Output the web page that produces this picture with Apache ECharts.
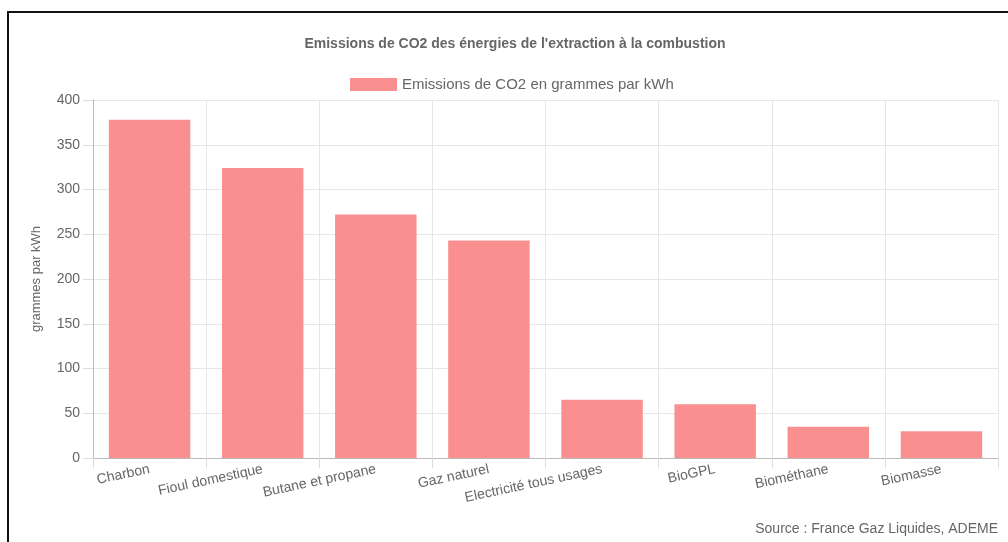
<!DOCTYPE html>
<html>
<head>
<meta charset="utf-8">
<script src="https://cdn.jsdelivr.net/npm/echarts@6/dist/echarts.min.js"></script>
<style>
  html, body { margin: 0; padding: 0; background: #fff; }
  #main { width: 1008px; height: 542px; }
  #frame { position: absolute; left: 7px; top: 11px; width: 1010px; height: 560px;
           border: 2px solid #111; pointer-events: none; }
</style>
</head>
<body>
<div id="main"></div>
<div id="frame"></div>
<script>
  // catégories et valeurs
  var categories = ['Charbon', 'Fioul domestique', 'Butane et propane', 'Gaz naturel',
    'Electricité tous usages', 'BioGPL', 'Biométhane', 'Biomasse'];
  var emissions = [378, 324, 272, 243, 65, 60, 35, 30];
  var yTicks = [0, 50, 100, 150, 200, 250, 300, 350, 400];

  var myChart = echarts.init(document.getElementById('main'));
  var font = 'Liberation Sans, Arial, sans-serif';

  var option = {
    animation: false,
    title: {
      text: "Emissions de CO2 des énergies de l'extraction à la combustion",
      left: 510, textAlign: 'center', top: 32,
      textStyle: { fontSize: 14, fontWeight: 'bold', color: '#666', fontFamily: font }
    },
    legend: {
      data: ['Emissions de CO2 en grammes par kWh'],
      top: 72, left: 345,
      itemWidth: 47, itemHeight: 13, itemGap: 8,
      icon: 'rect',
      textStyle: { fontSize: 15, color: '#666', fontFamily: font }
    },
    graphic: [{
      type: 'text', right: 10, top: 522,
      style: { text: 'Source : France Gaz Liquides, ADEME', fontSize: 14, fill: '#666', fontFamily: font }
    }],
    grid: { left: 93, right: 10, top: 100, bottom: 84 },
    xAxis: {
      type: 'category',
      data: categories,
      axisLine: { lineStyle: { color: '#bbb' } },
      axisTick: { show: true, length: 10, lineStyle: { color: '#ddd' } },
      axisLabel: { rotate: 12, margin: 11, fontSize: 14, color: '#666', fontFamily: font },
      splitLine: { show: true, lineStyle: { color: '#e6e6e6' } }
    },
    yAxis: {
      type: 'value',
      min: 0, max: yTicks[yTicks.length - 1], interval: 50,
      name: 'grammes par kWh', nameLocation: 'middle', nameGap: 50,
      nameTextStyle: { fontSize: 13, color: '#666', fontFamily: font },
      axisLine: { show: true, lineStyle: { color: '#bbb' } },
      axisTick: { show: true, length: 10, lineStyle: { color: '#ddd' } },
      axisLabel: { margin: 13, fontSize: 14, color: '#666', fontFamily: font },
      splitLine: { show: true, lineStyle: { color: '#e6e6e6' } }
    },
    series: [{
      name: 'Emissions de CO2 en grammes par kWh',
      type: 'bar',
      data: emissions,
      barCategoryGap: '28%',
      itemStyle: { color: '#f98f8f' }
    }]
  };

  myChart.setOption(option);
</script>
</body>
</html>
